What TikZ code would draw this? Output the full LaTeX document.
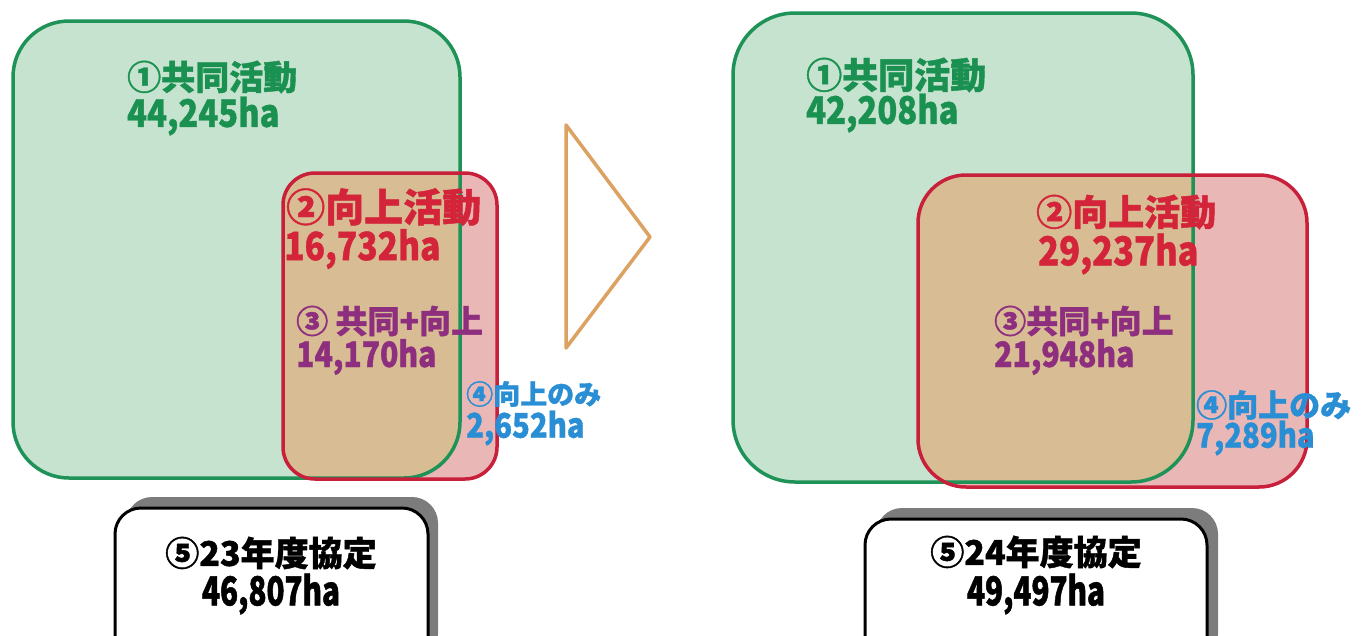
\documentclass[tikz,border=0pt]{standalone}
\usepackage{fontspec}
\newfontfamily\jp{Noto Sans CJK JP}[FakeBold=1.2]
\newfontfamily\jpn{Noto Sans CJK JP}[FakeStretch=0.86,FakeBold=1.0]
\newfontfamily\jpc{Noto Sans CJK JP}[FakeStretch=0.74,FakeBold=1.2]
\definecolor{gfill}{HTML}{C5E3CF}
\definecolor{pfill}{HTML}{E9B8B6}
\definecolor{tfill}{HTML}{D8BC93}
\definecolor{gline}{HTML}{1E9257}
\definecolor{rline}{HTML}{C8203A}
\definecolor{tgreen}{HTML}{1B9151}
\definecolor{tred}{HTML}{D3243A}
\definecolor{tpurple}{HTML}{8E2E7E}
\definecolor{tblue}{HTML}{2A8ED4}
\definecolor{tri}{HTML}{DCA262}
\definecolor{shadowgray}{HTML}{7C7C7C}
\newcommand{\fs}[1]{\fontsize{#1}{#1}\selectfont}
\tikzset{
  head/.style={anchor=west,inner sep=0pt},
  num/.style={anchor=west,inner sep=0pt},
  bhead/.style={anchor=center,inner sep=0pt,font=\jp\bfseries\fs{34}},
  bnum/.style={anchor=center,inner sep=0pt,font=\jpc\bfseries\fs{40}},
  gborder/.style={draw=gline,line width=3.5pt},
  rborder/.style={draw=rline,line width=3.5pt},
  blackbox/.style={draw=black,line width=3pt,fill=white,rounded corners=26},
  shadowbox/.style={fill=shadowgray,rounded corners=26},
}
\begin{document}
\begin{tikzpicture}[x=1pt,y=-1pt]
\useasboundingbox (0,0) rectangle (1368,635);
\clip (0,0) rectangle (1368,635);
\fill[white] (0,0) rectangle (1368,635);

% ---------- left diagram ----------
\fill[gfill,rounded corners=56] (13,21) rectangle (460,478);
\fill[pfill,rounded corners=32] (283,173) rectangle (497,479);
\begin{scope}
  \clip[rounded corners=56] (13,21) rectangle (460,478);
  \fill[tfill,rounded corners=32] (283,173) rectangle (497,479);
\end{scope}
\draw[gborder,rounded corners=56] (13,21) rectangle (460,478);
\draw[rborder,rounded corners=32] (283,173) rectangle (497,479);

\node[head,text=tgreen,font=\jp\bfseries\fs{34}] (l1) at (127,77) {①共同活動};
\node[num,text=tgreen,font=\jpn\bfseries\fs{38}] (l1n) at (127,116) {44,245ha};
\node[head,text=tred,font=\jp\bfseries\fs{39}] (l2) at (286,207) {②向上活動};
\node[num,text=tred,font=\jpn\bfseries\fs{39}] (l2n) at (284,249) {16,732ha};
\node[head,text=tpurple,font=\jp\bfseries\fs{32}] (l3) at (296,321) {③ 共同+向上};
\node[num,text=tpurple,font=\jpn\bfseries\fs{35}] (l3n) at (296,357) {14,170ha};
\node[head,text=tblue,font=\jp\bfseries\fs{27}] (l4) at (466,394) {④向上のみ};
\node[num,text=tblue,font=\jpn\bfseries\fs{34}] (l4n) at (466,428) {2,652ha};

\fill[shadowbox] (126,497) rectangle (438,660);
\draw[blackbox] (115,508) rectangle (428,670);
\node[bhead] (l5) at (271,553) {⑤23年度協定};
\node[bnum] (l5n) at (271,594) {46,807ha};

% ---------- arrow triangle ----------
\coordinate (ta) at (566,125);
\coordinate (tb) at (650,237);
\coordinate (tc) at (566,348);
\draw[tri,line width=3.5pt,line join=round] (ta) -- (tb) -- (tc) -- cycle;

% ---------- right diagram ----------
\fill[gfill,rounded corners=62] (733,13) rectangle (1193,482);
\fill[pfill,rounded corners=48] (918,175) rectangle (1307,487);
\begin{scope}
  \clip[rounded corners=62] (733,13) rectangle (1193,482);
  \fill[tfill,rounded corners=48] (918,175) rectangle (1307,487);
\end{scope}
\draw[gborder,rounded corners=62] (733,13) rectangle (1193,482);
\draw[rborder,rounded corners=48] (918,175) rectangle (1307,487);

\node[head,text=tgreen,font=\jp\bfseries\fs{36}] (r1) at (806,75) {①共同活動};
\node[num,text=tgreen,font=\jpn\bfseries\fs{38}] (r1n) at (806,113) {42,208ha};
\node[head,text=tred,font=\jp\bfseries\fs{36}] (r2) at (1036,212) {②向上活動};
\node[num,text=tred,font=\jpn\bfseries\fs{40}] (r2n) at (1038,254) {29,237ha};
\node[head,text=tpurple,font=\jp\bfseries\fs{32}] (r3) at (994,321) {③共同+向上};
\node[num,text=tpurple,font=\jpn\bfseries\fs{35}] (r3n) at (994,357) {21,948ha};
\node[head,text=tblue,font=\jp\bfseries\fs{31}] (r4) at (1196,405) {④向上のみ};
\node[num,text=tblue,font=\jpn\bfseries\fs{34}] (r4n) at (1196,438) {7,289ha};

\fill[shadowbox] (876,508) rectangle (1218,660);
\draw[blackbox] (865,519) rectangle (1207,670);
\node[bhead] (r5) at (1036,552) {⑤24年度協定};
\node[bnum] (r5n) at (1036,594) {49,497ha};
\end{tikzpicture}
\end{document}
